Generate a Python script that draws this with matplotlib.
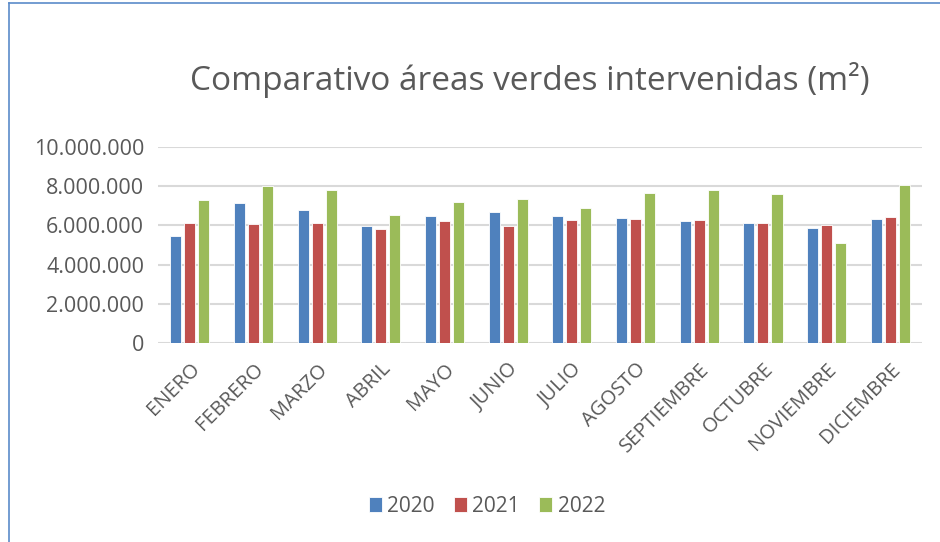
import matplotlib.pyplot as plt
from matplotlib.lines import Line2D
import numpy as np

months = ['ENERO', 'FEBRERO', 'MARZO', 'ABRIL', 'MAYO', 'JUNIO', 'JULIO',
          'AGOSTO', 'SEPTIEMBRE', 'OCTUBRE', 'NOVIEMBRE', 'DICIEMBRE']
years = ['2020', '2021', '2022']
v2020 = [5460000, 7130000, 6790000, 5950000, 6500000, 6700000,
         6500000, 6390000, 6220000, 6140000, 5850000, 6340000]
v2021 = [6140000, 6100000, 6140000, 5810000, 6220000, 5950000,
         6260000, 6330000, 6260000, 6150000, 6000000, 6410000]
v2022 = [7300000, 8000000, 7830000, 6530000, 7180000, 7350000,
         6890000, 7660000, 7810000, 7610000, 5110000, 8090000]
yticks = [0, 2000000, 4000000, 6000000, 8000000, 10000000]

colors = ['#4F81BD', '#C0504D', '#9BBB59']
txt = '#595959'


def fmt(v):
    return f'{v:,}'.replace(',', '.')


def main():
    plt.rcParams['font.family'] = ['Open Sans', 'DejaVu Sans']
    fig = plt.figure(figsize=(9.4, 5.42), dpi=100)
    ax = fig.add_axes([0.168, 0.3677, 0.813, 0.3605])

    x = np.arange(len(months))
    w = 0.175
    step = 0.22
    for i, (vals, c) in enumerate(zip([v2020, v2021, v2022], colors)):
        ax.bar(x + (i - 1) * step, vals, width=w, color=c, label=years[i],
               edgecolor='white', linewidth=0.6, zorder=3)

    ax.set_xlim(-0.5, len(months) - 0.5)
    ax.set_ylim(0, 10000000)
    ax.set_yticks(yticks)
    ax.set_yticklabels([fmt(v) for v in yticks], fontsize=15.5, color=txt)
    ax.set_xticks(x)
    ax.set_xticklabels(months, rotation=45, ha='right', rotation_mode='anchor',
                       fontsize=14.5, color=txt)
    ax.tick_params(axis='y', length=0, pad=10)
    ax.tick_params(axis='x', length=0, pad=12)
    ax.grid(axis='y', color='#D9D9D9', linewidth=1.5, zorder=0)
    for s in ax.spines.values():
        s.set_visible(False)

    fig.text(0.564, 0.852, 'Comparativo áreas verdes intervenidas (m²)',
             ha='center', va='center', fontsize=24, color=txt)

    fig.legend(loc='center', bbox_to_anchor=(0.518, 0.066), ncol=3,
               frameon=False, fontsize=15, handlelength=0.65,
               handleheight=0.8, handletextpad=0.25, columnspacing=0.9,
               labelcolor=txt)

    # chart frame (top and left edges visible)
    fig.add_artist(Line2D([9 / 940, 1], [1 - 3 / 542, 1 - 3 / 542],
                          transform=fig.transFigure, color='#5B8BC9', lw=1.2))
    fig.add_artist(Line2D([9 / 940, 9 / 940], [0, 1 - 3 / 542],
                          transform=fig.transFigure, color='#5B8BC9', lw=1.2))

    fig.savefig('out.png', dpi=100)


if __name__ == '__main__':
    main()
